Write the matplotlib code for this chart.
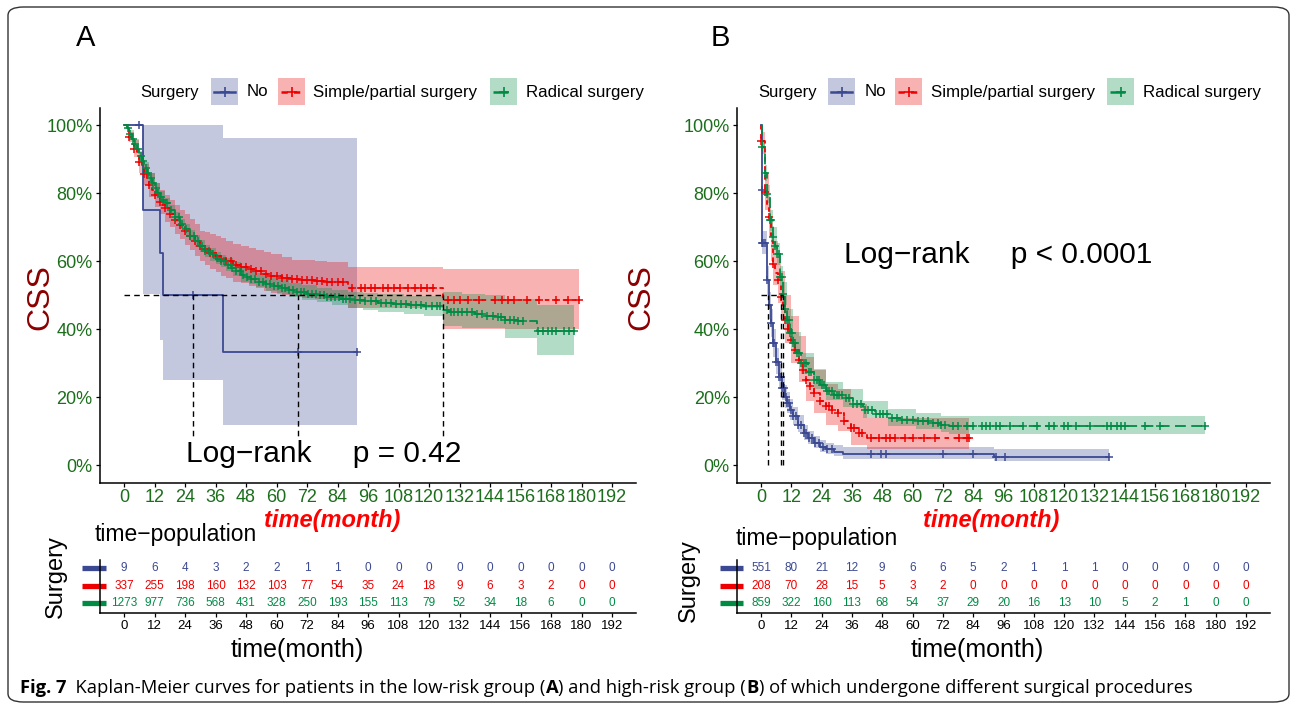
import matplotlib
matplotlib.use("Agg")
import matplotlib.pyplot as plt
import numpy as np
from matplotlib.lines import Line2D
from matplotlib.patches import Rectangle, FancyBboxPatch
from matplotlib.ticker import FuncFormatter

W, H = 1292, 705

GROUPS = ["No", "Simple/partial surgery", "Radical surgery"]
COLORS = ["#3B4992", "#EE0000", "#008B45"]
LINESTYLES = ["-", (0, (2.5, 2.5)), (0, (6, 3))]
TICK_GREEN = "#1b6e1b"
XTICKS = list(range(0, 193, 12))

# ---------------- panel A (low-risk group) ----------------
a_no_t = [0, 7.5, 14.0, 15.4, 39.0, 91.7]
a_no_s = [1.0, 0.75, 0.625, 0.50, 0.333, 0.333]
a_no_ci_t = [0, 7.5, 14.0, 15.4, 39.0, 91.7]
a_no_lo = [1.0, 0.505, 0.369, 0.252, 0.118, 0.118]
a_no_hi = [1.0, 1.0, 1.0, 1.0, 0.961, 0.961]
a_no_cens = [6.0, 27.2, 68.3, 91.7]

a_simple_t = [0, 1, 2, 3, 4, 5, 6, 7, 8, 9, 10, 11, 12, 13, 14, 15, 16, 18, 20, 22, 24, 26, 28, 30,
              32, 34, 36, 38, 40, 43, 46, 49, 52, 55, 58, 62, 66, 70, 75, 80, 88.2, 125.4, 179.2]
a_simple_s = [1.0, 0.985, 0.965, 0.945, 0.93, 0.91, 0.89, 0.875, 0.855, 0.84, 0.825, 0.81, 0.795,
              0.785, 0.775, 0.765, 0.755, 0.74, 0.72, 0.705, 0.69, 0.675, 0.66, 0.645, 0.635, 0.625,
              0.615, 0.607, 0.60, 0.59, 0.582, 0.578, 0.57, 0.562, 0.556, 0.551, 0.548, 0.545, 0.542,
              0.54, 0.52, 0.485, 0.485]
a_simple_ci_t = [0, 2, 4, 6, 8, 10, 12, 14, 16, 18, 20, 22, 24, 26, 28, 30, 32, 34, 36, 38, 40, 43,
                 46, 49, 52, 55, 58, 62, 66, 70, 75, 80, 88.2, 125.4, 179.2]
a_simple_lo = [1.0, 0.95, 0.905, 0.86, 0.825, 0.79, 0.76, 0.74, 0.715, 0.70, 0.68, 0.665, 0.648,
               0.632, 0.615, 0.60, 0.59, 0.578, 0.567, 0.558, 0.55, 0.54, 0.535, 0.528, 0.52, 0.512,
               0.508, 0.50, 0.497, 0.493, 0.49, 0.487, 0.463, 0.40, 0.40]
a_simple_hi = [1.0, 0.98, 0.955, 0.92, 0.885, 0.86, 0.83, 0.81, 0.795, 0.78, 0.765, 0.75, 0.74,
               0.725, 0.71, 0.69, 0.685, 0.68, 0.675, 0.667, 0.66, 0.652, 0.645, 0.64, 0.632, 0.626,
               0.62, 0.612, 0.605, 0.603, 0.60, 0.598, 0.583, 0.578, 0.578]
a_simple_cens = [2, 4, 6, 8, 10, 12, 14, 16, 18, 20, 22, 24, 26, 28, 30, 32, 34, 36, 38, 40, 42, 44,
                 46, 48, 50, 52, 54, 56, 58, 60, 62, 64, 66, 68, 70, 72, 74, 76, 78, 80, 82, 84, 86,
                 89.8, 93.1, 94.7, 97.2, 98.8, 102, 103.7, 106.1, 108.6, 111.8, 114.3, 116.7, 119.2,
                 121.6, 127.3, 129.8, 132.2, 135.5, 139.6, 146.1, 148.6, 151, 153.5, 158.4, 163.3,
                 169.8, 174.7, 179.2]

a_radical_t = [0, 1, 2, 3, 4, 5, 6, 7, 8, 9, 10, 11, 12, 13, 14, 15, 16, 18, 20, 22, 24, 26, 28, 30,
               32, 34, 36, 38, 40, 42, 44, 46, 48, 50, 53, 56, 59, 62, 65, 68, 72, 76, 80, 85, 90,
               95, 100, 106, 112, 118, 122, 125.4, 128, 133, 138, 142, 147, 150, 155, 162.4, 177]
a_radical_s = [1.0, 0.99, 0.975, 0.96, 0.945, 0.93, 0.91, 0.895, 0.875, 0.86, 0.845, 0.83, 0.815,
               0.80, 0.79, 0.78, 0.77, 0.75, 0.73, 0.71, 0.695, 0.675, 0.66, 0.645, 0.63, 0.62, 0.61,
               0.60, 0.59, 0.58, 0.57, 0.56, 0.555, 0.548, 0.54, 0.533, 0.527, 0.52, 0.515, 0.51,
               0.505, 0.50, 0.496, 0.49, 0.486, 0.482, 0.478, 0.474, 0.471, 0.469, 0.467, 0.458,
               0.452, 0.45, 0.445, 0.44, 0.437, 0.427, 0.425, 0.396, 0.396]
a_radical_ci_t = [0, 2, 4, 6, 8, 10, 12, 14, 16, 18, 20, 22, 24, 26, 28, 30, 32, 34, 36, 38, 40, 43,
                  46, 49, 52, 56, 60, 65, 70, 76, 82, 88, 94, 100, 110, 118, 125.4, 133, 142, 150,
                  162.4, 177]
a_radical_lo = [1.0, 0.965, 0.93, 0.895, 0.86, 0.83, 0.80, 0.775, 0.755, 0.735, 0.715, 0.695, 0.678,
                0.658, 0.643, 0.627, 0.612, 0.602, 0.592, 0.582, 0.571, 0.557, 0.54, 0.533, 0.524,
                0.513, 0.505, 0.494, 0.487, 0.479, 0.472, 0.464, 0.458, 0.452, 0.445, 0.44, 0.41,
                0.405, 0.403, 0.373, 0.325, 0.325]
a_radical_hi = [1.0, 0.985, 0.96, 0.925, 0.89, 0.86, 0.83, 0.805, 0.785, 0.765, 0.745, 0.725, 0.71,
                0.692, 0.677, 0.663, 0.648, 0.638, 0.628, 0.618, 0.609, 0.597, 0.58, 0.573, 0.566,
                0.553, 0.547, 0.536, 0.53, 0.521, 0.516, 0.51, 0.506, 0.504, 0.499, 0.497, 0.51,
                0.505, 0.50, 0.49, 0.47, 0.47]
a_radical_cens = [1.5, 2.5, 3.5, 4.5, 5.5, 6.5, 7.5, 8.5, 9.5, 10.5, 11.5, 12.5, 13.5, 14.5, 15.5, 17,
                  18.5, 20, 21.5, 23, 24.5, 26, 27.5, 29, 30.5, 32, 33.5, 35, 36.5, 38, 39.5, 41,
                  42.5, 44, 45.5, 47, 48.5, 50, 51.5, 53, 54.5, 56, 57.5, 59, 60.5, 62, 63.5, 65,
                  66.5, 68, 69.5, 71, 72.5, 74, 75.5, 77, 78.5, 80, 81.5, 83, 84.5, 86, 87.5, 89, 91,
                  93, 95, 97, 99, 101, 103, 105, 107, 109, 111, 113, 115, 117, 119, 121, 123, 124.5,
                  127, 128.5, 130, 131.5, 133, 135, 137, 139, 141, 143, 145, 147, 148.5, 150, 152,
                  153.5, 155, 157, 163, 165, 167, 168.5, 170, 173, 175, 177]

a_medians = [27.2, 68.3, 125.4]
a_at_risk = [
    [9, 6, 4, 3, 2, 2, 1, 1, 0, 0, 0, 0, 0, 0, 0, 0, 0],
    [337, 255, 198, 160, 132, 103, 77, 54, 35, 24, 18, 9, 6, 3, 2, 0, 0],
    [1273, 977, 736, 568, 431, 328, 250, 193, 155, 113, 79, 52, 34, 18, 6, 0, 0],
]

# ---------------- panel B (high-risk group) ----------------
b_no_t = [0, 0.3, 0.6, 2.3, 3.1, 3.9, 4.7, 6.0, 7.1, 8.3, 9.4, 10.4, 11.6, 12.8, 14.5, 16.9, 18.8,
          20.9, 23.5, 25.8, 29.0, 32.3, 92.2, 137.6]
b_no_s = [1.0, 0.81, 0.654, 0.544, 0.471, 0.418, 0.361, 0.305, 0.261, 0.227, 0.20, 0.183, 0.163,
          0.144, 0.12, 0.096, 0.08, 0.066, 0.055, 0.047, 0.04, 0.034, 0.025, 0.025]
b_no_ci_t = b_no_t
b_no_lo = [1.0, 0.78, 0.62, 0.50, 0.43, 0.378, 0.32, 0.268, 0.226, 0.193, 0.17, 0.153, 0.135, 0.118,
           0.097, 0.076, 0.062, 0.05, 0.04, 0.033, 0.027, 0.018, 0.012, 0.012]
b_no_hi = [1.0, 0.84, 0.69, 0.585, 0.51, 0.46, 0.40, 0.345, 0.298, 0.262, 0.235, 0.215, 0.195, 0.173,
           0.147, 0.12, 0.102, 0.088, 0.075, 0.067, 0.06, 0.054, 0.047, 0.047]
b_no_cens = [0.3, 0.6, 1.0, 1.6, 2.3, 3.1, 3.9, 4.7, 5.3, 6.0, 6.6, 7.1, 7.8, 8.3, 9.0, 9.8, 10.4,
             11.2, 12.0, 12.8, 13.8, 14.8, 15.8, 16.9, 18, 19, 20.2, 21.5, 23, 24.5, 26, 28, 43.6,
             47.7, 49.3, 72.0, 84.1, 93.1, 96.4, 137.6]

b_simple_t = [0, 0.2, 1.5, 2.2, 3.1, 3.9, 4.7, 5.5, 6.6, 7.9, 8.8, 9.6, 10.8, 12.0, 13.5, 15.2, 16.5,
              17.7, 19.3, 20.9, 23.3, 25.8, 28.2, 30.6, 33.0, 35.5, 38.7, 42.0, 82.5]
b_simple_s = [1.0, 0.954, 0.803, 0.76, 0.73, 0.66, 0.593, 0.565, 0.544, 0.496, 0.46, 0.427, 0.40,
              0.369, 0.34, 0.31, 0.28, 0.252, 0.232, 0.213, 0.19, 0.174, 0.163, 0.154, 0.13, 0.11,
              0.095, 0.081, 0.081]
b_simple_ci_t = [0, 0.2, 1.5, 3.1, 3.9, 4.7, 6.6, 7.9, 9.6, 12.0, 15.2, 17.7, 20.9, 25.8, 30.6, 35.5,
                 42.0, 82.5]
b_simple_lo = [1.0, 0.93, 0.75, 0.67, 0.60, 0.53, 0.478, 0.43, 0.36, 0.30, 0.245, 0.19, 0.155, 0.118,
               0.10, 0.06, 0.047, 0.047]
b_simple_hi = [1.0, 0.98, 0.86, 0.79, 0.725, 0.66, 0.615, 0.57, 0.50, 0.44, 0.38, 0.32, 0.28, 0.24,
               0.225, 0.18, 0.14, 0.14]
b_simple_cens = [0.2, 1.5, 3.1, 4.7, 6.6, 7.9, 9.6, 10.8, 12, 13.5, 15.2, 16.5, 17.7, 19.3, 20.9, 23.3,
                 25.8, 27, 28.2, 30.6, 33, 35.5, 37, 38.7, 40, 43.6, 46.9, 49.3, 50.9, 53, 57, 60,
                 64.7, 69, 78.5, 81.7, 82.5]

b_radical_t = [0, 0.6, 1.5, 2.3, 3.4, 4.7, 5.5, 6.3, 7.6, 8.8, 9.6, 10.4, 11.6, 12.8, 14.4, 16.0, 18.5,
               20.9, 23.3, 25.8, 29.0, 32.3, 36.3, 40.4, 45.2, 50.1, 55.7, 61.4, 66.3, 71.2, 74.4,
               175.7]
b_radical_s = [1.0, 0.935, 0.86, 0.798, 0.72, 0.671, 0.645, 0.622, 0.554, 0.505, 0.46, 0.427, 0.39,
               0.359, 0.33, 0.30, 0.275, 0.252, 0.235, 0.218, 0.207, 0.198, 0.18, 0.164, 0.15, 0.14,
               0.135, 0.13, 0.125, 0.12, 0.115, 0.115]
b_radical_ci_t = [0, 0.6, 1.5, 2.3, 3.4, 4.7, 6.3, 7.6, 8.8, 10.4, 12.8, 16.0, 20.9, 25.8, 32.3, 40.4,
                  50.1, 61.4, 71.2, 74.4, 175.7]
b_radical_lo = [1.0, 0.915, 0.835, 0.77, 0.69, 0.64, 0.59, 0.52, 0.47, 0.393, 0.326, 0.27, 0.225,
                0.193, 0.173, 0.14, 0.117, 0.108, 0.098, 0.091, 0.091]
b_radical_hi = [1.0, 0.952, 0.882, 0.825, 0.75, 0.70, 0.654, 0.587, 0.54, 0.46, 0.392, 0.33, 0.282,
                0.245, 0.225, 0.19, 0.165, 0.155, 0.146, 0.144, 0.144]
b_radical_cens = [0.6, 1.5, 2.3, 3.4, 4.1, 4.7, 5.5, 6.3, 7, 7.6, 8.2, 8.8, 9.6, 10.4, 11, 11.6, 12.2,
                  12.8, 13.6, 14.4, 15.2, 16, 17, 18, 19, 20, 21, 22, 23, 24, 25, 26, 27, 28, 29, 30,
                  31, 32, 33.5, 35, 36.5, 38, 39.5, 41, 42.5, 44, 45.5, 47, 48.5, 50, 52, 54, 56, 58,
                  60, 62, 64, 66, 68, 70, 71.2, 72.8, 76, 78, 81.7, 84.1, 87.4, 89, 90.6, 93.1, 94.7,
                  98.7, 103.6, 109.3, 114.2, 115.8, 119.8, 121.4, 124.7, 130.4, 136.8, 138.5, 140.9,
                  142.5, 144.1, 152.2, 157.9, 175.7]

b_medians = [2.8, 7.9, 8.8]
b_at_risk = [
    [551, 80, 21, 12, 9, 6, 6, 5, 2, 1, 1, 1, 0, 0, 0, 0, 0],
    [208, 70, 28, 15, 5, 3, 2, 0, 0, 0, 0, 0, 0, 0, 0, 0, 0],
    [859, 322, 160, 113, 68, 54, 37, 29, 20, 16, 13, 10, 5, 2, 1, 0, 0],
]

plt.rcParams["font.family"] = ["Liberation Sans", "DejaVu Sans"]


def px_rect(left, top, right, bottom):
    """pixel box (from the top-left corner) -> figure fraction rect"""
    return [left / W, 1 - bottom / H, (right - left) / W, (bottom - top) / H]


def fx(x):
    return x / W


def fy(y):
    return 1 - y / H


def surv_at(times, surv, t):
    idx = np.searchsorted(times, t, side="right") - 1
    return np.asarray(surv)[np.clip(idx, 0, len(surv) - 1)]


def draw_km(ax, curves, medians, pval_text, text_xy):
    for (t, s, ct, lo, hi, cens), color in zip(curves, COLORS):
        ax.fill_between(ct, lo, hi, step="post", color=color, alpha=0.3, lw=0)
    for (t, s, ct, lo, hi, cens), color, ls in zip(curves, COLORS, LINESTYLES):
        ax.step(t, s, where="post", color=color, lw=1.3, linestyle=ls)
        ax.plot(cens, surv_at(t, s, cens), ls="none", marker="+", ms=6, mew=1.1, color=color)

    # median survival guides
    ax.plot([0, max(medians)], [0.5, 0.5], color="black", lw=1.0, linestyle=(0, (4, 3)))
    for m in medians:
        ax.plot([m, m], [0, 0.5], color="black", lw=1.0, linestyle=(0, (4, 3)))

    ax.text(text_xy[0], text_xy[1], pval_text, fontsize=21.5, ha="center", va="center",
            bbox=dict(facecolor="white", edgecolor="none", pad=1), zorder=5)

    ax.set_xlim(-9.6, 201.6)
    ax.set_ylim(-0.05, 1.05)
    ax.set_xticks(XTICKS)
    ax.set_yticks([0, 0.2, 0.4, 0.6, 0.8, 1.0])
    ax.yaxis.set_major_formatter(FuncFormatter(lambda v, _: f"{v * 100:.0f}%"))
    ax.tick_params(labelsize=13, labelcolor=TICK_GREEN, length=3, width=0.9, pad=2)
    for side in ("top", "right"):
        ax.spines[side].set_visible(False)
    for side in ("left", "bottom"):
        ax.spines[side].set_linewidth(1.1)


def draw_table(ax, at_risk):
    for row, (counts, color) in enumerate(zip(at_risk, COLORS)):
        y = 3 - row
        for x, n in zip(XTICKS, counts):
            ax.text(x, y, str(n), color=color, fontsize=8.5, ha="center", va="center")
        ax.plot([-0.032, 0.012], [y, y], color=color, lw=3.8, solid_capstyle="butt",
                transform=ax.get_yaxis_transform(), clip_on=False)
    ax.set_xlim(-9.6, 201.6)
    ax.set_ylim(0.43, 3.46)
    ax.set_xticks(XTICKS)
    ax.set_yticks([])
    ax.tick_params(labelsize=9.5, length=3, width=0.9, pad=2)
    for side in ("top", "right"):
        ax.spines[side].set_visible(False)
    for side in ("left", "bottom"):
        ax.spines[side].set_linewidth(1.1)


def draw_legend(fig, x_title, boxes, labels_x, y=92):
    fig.text(fx(x_title), fy(y), "Surgery", fontsize=12, ha="left", va="center")
    for (bx, lx), label, color, ls in zip(zip(boxes, labels_x), GROUPS, COLORS, LINESTYLES):
        fig.add_artist(Rectangle((fx(bx), fy(105)), 27 / W, 27 / H, transform=fig.transFigure,
                                 facecolor=color, alpha=0.3, edgecolor="none"))
        fig.add_artist(Line2D([fx(bx + 3), fx(bx + 24)], [fy(y), fy(y)], color=color, lw=1.8,
                              linestyle=ls, transform=fig.transFigure))
        fig.add_artist(Line2D([fx(bx + 13.5)], [fy(y)], color=color, marker="+", ms=7, mew=1.2,
                              transform=fig.transFigure))
        fig.text(fx(lx), fy(y), label, fontsize=12.2, ha="left", va="center")


def caption(fig, x, y, parts):
    renderer = fig.canvas.get_renderer()
    for text, bold in parts:
        t = fig.text(fx(x), fy(y), text, fontsize=13.2, family=["Open Sans", "DejaVu Sans"],
                     fontweight="bold" if bold else "normal", ha="left", va="center")
        x += t.get_window_extent(renderer).width


def main():
    fig = plt.figure(figsize=(W / 100, H / 100), dpi=100)

    fig.add_artist(FancyBboxPatch((fx(8), fy(702)), (1289 - 8) / W, (702 - 7) / H,
                                  boxstyle="round,pad=0,rounding_size=0.012",
                                  transform=fig.transFigure, facecolor="none",
                                  edgecolor="#333333", lw=1.0))

    curves_a = [
        (a_no_t, a_no_s, a_no_ci_t, a_no_lo, a_no_hi, a_no_cens),
        (a_simple_t, a_simple_s, a_simple_ci_t, a_simple_lo, a_simple_hi, a_simple_cens),
        (a_radical_t, a_radical_s, a_radical_ci_t, a_radical_lo, a_radical_hi, a_radical_cens),
    ]
    curves_b = [
        (b_no_t, b_no_s, b_no_ci_t, b_no_lo, b_no_hi, b_no_cens),
        (b_simple_t, b_simple_s, b_simple_ci_t, b_simple_lo, b_simple_hi, b_simple_cens),
        (b_radical_t, b_radical_s, b_radical_ci_t, b_radical_lo, b_radical_hi, b_radical_cens),
    ]

    ax_a = fig.add_axes(px_rect(99.6, 108, 636.4, 482.5))
    draw_km(ax_a, curves_a, a_medians, "Log\u2212rank     p = 0.42", (78.7, 0.035))
    ax_b = fig.add_axes(px_rect(736.7, 108, 1270.3, 482.5))
    draw_km(ax_b, curves_b, b_medians, "Log\u2212rank     p < 0.0001", (93.8, 0.618))

    tab_a = fig.add_axes(px_rect(99.6, 560, 636.4, 613.3))
    draw_table(tab_a, a_at_risk)
    tab_b = fig.add_axes(px_rect(736.7, 560, 1270.3, 613.3))
    draw_table(tab_b, b_at_risk)

    # panel letters, axis titles
    for x, letter in ((86, "A"), (720, "B")):
        fig.text(fx(x), fy(38), letter, fontsize=21, ha="center", va="center")
    for x in (40, 641):
        fig.text(fx(x), fy(297), "CSS", fontsize=23, color="#8B0000", rotation=90,
                 ha="center", va="center")
    for x in (332, 991):
        fig.text(fx(x), fy(520), "time(month)", fontsize=17, color="red", fontweight="bold",
                 fontstyle="italic", ha="center", va="center")
    for x, y in ((94.5, 535), (736, 538)):
        fig.text(fx(x), fy(y), "time\u2212population", fontsize=16.5, ha="left", va="center")
    for x, y in ((56, 577), (689, 581)):
        fig.text(fx(x), fy(y), "Surgery", fontsize=17, rotation=90, ha="center", va="center")
    for x in (297, 977):
        fig.text(fx(x), fy(650), "time(month)", fontsize=18, ha="center", va="center")

    draw_legend(fig, 140, [211, 278, 490], [247, 313, 526])
    draw_legend(fig, 758, [828, 895, 1107], [865, 931, 1143])

    caption(fig, 20, 688, [
        ("Fig. 7", True),
        ("  Kaplan-Meier curves for patients in the low-risk group (", False),
        ("A", True),
        (") and high-risk group (", False),
        ("B", True),
        (") of which undergone different surgical procedures", False),
    ])

    fig.savefig("out.png", dpi=100)


if __name__ == "__main__":
    main()
